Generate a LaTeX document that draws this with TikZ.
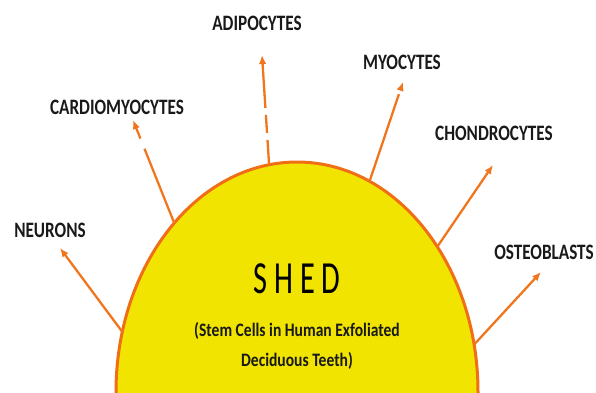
\documentclass[tikz,border=0pt]{standalone}
\usepackage{fontspec}
\setmainfont{Carlito}
\newfontfamily\cellfont[FakeStretch=0.78]{Carlito}
\newfontfamily\notefont[FakeStretch=0.82]{Carlito}
\newfontfamily\shedfont[FakeStretch=0.66]{Carlito}
\usetikzlibrary{arrows.meta,shapes.geometric}
\definecolor{rimorange}{RGB}{240,110,22}
\definecolor{branchorange}{RGB}{240,118,30}
\definecolor{shedyellow}{RGB}{240,228,0}

\begin{document}
\begin{tikzpicture}[
  x=1pt, y=-1pt,
  cell/.style={font=\cellfont\bfseries\fontsize{22}{26}\selectfont, text=black!90, inner sep=0pt},
  branch/.style={-{Latex[length=9pt,width=7.5pt]}, line width=2.3pt, draw=branchorange},
  dome/.style={ellipse, draw=rimorange, fill=shedyellow, line width=3pt, inner sep=0pt, outer sep=0pt}
]
  \useasboundingbox (0,0) rectangle (596,392);
  \begin{scope}
    \clip (0,0) rectangle (596,392);
    \node[dome, minimum width=362pt, minimum height=460pt] (shed) at (297,392) {};
  \end{scope}

  % centre text
  \node[font=\shedfont\fontsize{46}{54}\selectfont, anchor=base, inner sep=0pt] (title) at (297,293) {S H E D};
  \node[font=\notefont\bfseries\fontsize{19}{30}\selectfont, align=center, text=black!90] (subtitle) at (297,346) {(Stem Cells in Human Exfoliated\\Deciduous Teeth)};

  % cell types
  \node[cell] (neurons) at (50,230) {NEURONS};
  \node[cell] (cardio) at (117,107) {CARDIOMYOCYTES};
  \node[cell] (adipo) at (257,23) {ADIPOCYTES};
  \node[cell] (myo) at (402,62) {MYOCYTES};
  \node[cell] (chondro) at (494,133) {CHONDROCYTES};
  \node[cell] (osteo) at (544,252) {OSTEOBLASTS};

  \coordinate (neurons tip) at (60,248);
  \coordinate (cardio tip) at (133,120);
  \coordinate (adipo tip) at (262,55);
  \coordinate (myo tip) at (403,82);
  \coordinate (chondro tip) at (493,165);
  \coordinate (osteo tip) at (541,272);

  \draw[branch] (shed.161) -- (neurons tip);
  \draw[branch, dash pattern=on 80pt off 11pt on 60pt] (shed.126) -- (cardio tip);
  \draw[branch, dash pattern=on 25pt off 7pt on 18pt off 7pt on 80pt] (shed.97) -- (adipo tip);
  \draw[branch, dash pattern=on 92pt off 5pt on 30pt] (shed.71) -- (myo tip);
  \draw[branch] (shed.46) -- (chondro tip);
  \draw[branch] (shed.15) -- (osteo tip);
\end{tikzpicture}
\end{document}
